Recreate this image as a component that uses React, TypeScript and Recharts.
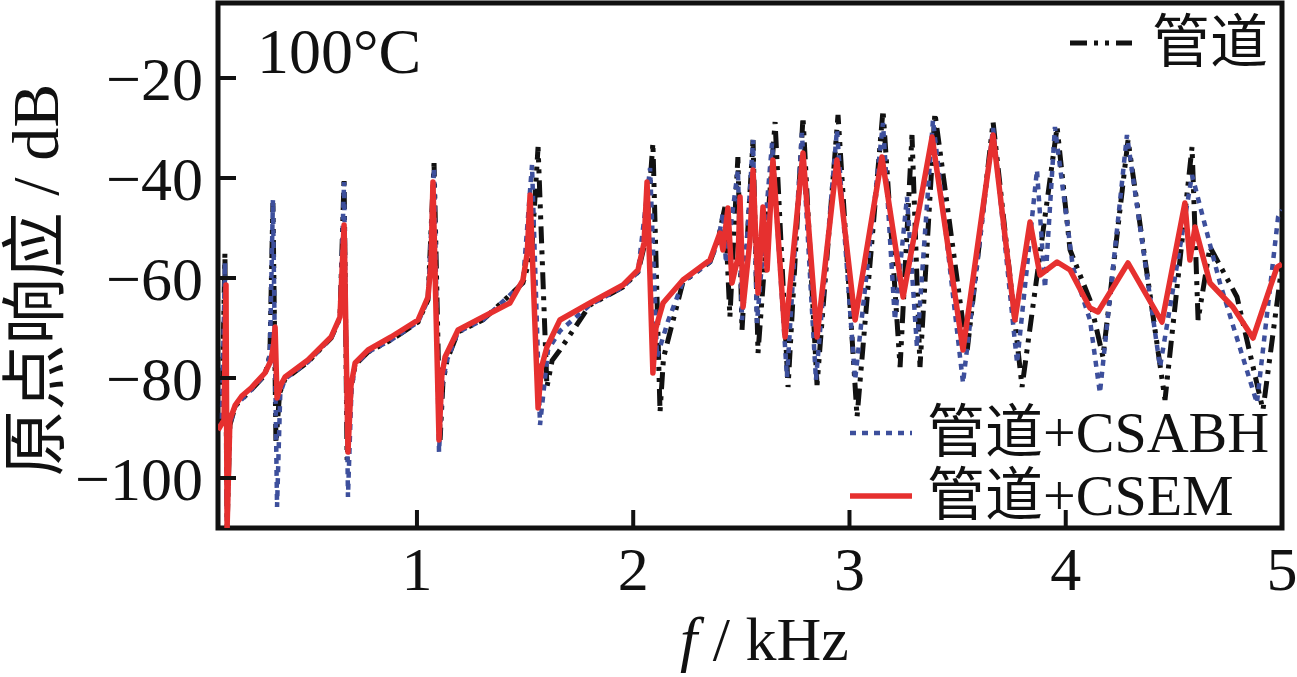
import { LineChart, Line, XAxis, YAxis, ReferenceArea } from "recharts";

// 管道
const pipeF = [
  0.08, 0.098, 0.112, 0.122, 0.135, 0.16, 0.233, 0.297, 0.32, 0.334, 0.348, 0.365, 0.39, 0.496, 0.603, 0.644,
  0.663, 0.677, 0.695, 0.714, 0.774, 0.88, 1.005, 1.051, 1.079, 1.107, 1.12, 1.139, 1.19, 1.305, 1.49, 1.53,
  1.56, 1.601, 1.625, 1.661, 1.8, 1.953, 2.022, 2.06, 2.091, 2.124, 2.14, 2.161, 2.23, 2.355, 2.392, 2.424,
  2.447, 2.484, 2.503, 2.554, 2.577, 2.656, 2.716, 2.785, 2.85, 2.947, 3.035, 3.155, 3.234, 3.289, 3.326,
  3.395, 3.543, 3.664, 3.798, 3.96, 4.02, 4.112, 4.172, 4.288, 4.459, 4.584, 4.612, 4.667, 4.792, 4.912, 5.0,
];
const pipeDb = [
  -90.4, -88.4, -55, -110, -89.4, -85.6, -82.4, -79.4, -75.4, -45, -93, -83, -80.2, -76.8, -72, -68,
  -40, -96.4, -82.4, -77.4, -74.8, -72.4, -68.8, -64.4, -37, -92.4, -81, -76.4, -70.8, -68.4, -61, -55,
  -33.8, -81.8, -76.5, -74.4, -65.4, -61.8, -58.8, -52, -33, -86.8, -76, -72.4, -60.8, -56.8, -52.4, -45.8,
  -67.8, -35.8, -70.4, -32.4, -75, -28.8, -81.8, -27.8, -81.4, -27.4, -87.8, -26.4, -77.8, -31.4, -77.8,
  -27, -75, -28.8, -81.8, -29.8, -54.4, -64.4, -75.8, -32.4, -84.4, -33.8, -68.4, -53.8, -63.8, -86.4, -57.4,
];

// 管道+CSABH
const csabhF = [
  0.08, 0.098, 0.112, 0.122, 0.135, 0.16, 0.233, 0.297, 0.32, 0.334, 0.353, 0.368, 0.39, 0.496, 0.603, 0.644,
  0.663, 0.681, 0.697, 0.714, 0.774, 0.88, 1.005, 1.051, 1.079, 1.102, 1.118, 1.139, 1.19, 1.305, 1.49, 1.532,
  1.569, 1.606, 1.661, 1.8, 1.953, 2.022, 2.078, 2.11, 2.161, 2.23, 2.355, 2.392, 2.415, 2.429, 2.484, 2.503,
  2.554, 2.572, 2.642, 2.711, 2.78, 2.845, 2.942, 3.026, 3.155, 3.21, 3.266, 3.312, 3.386, 3.525, 3.664, 3.775,
  3.867, 3.904, 3.95, 4.033, 4.112, 4.158, 4.283, 4.436, 4.584, 4.713, 4.884, 4.982, 5.0,
];
const csabhDb = [
  -90.4, -88.4, -57, -110, -89.4, -85.6, -82.4, -79.4, -75.4, -44.4, -105.8, -83, -80.2, -76.8, -72, -68,
  -40.8, -103.8, -82.4, -77.4, -74.8, -72.4, -68.8, -64.4, -38, -94.8, -81, -76.4, -70.8, -68.4, -61, -37.4,
  -89.4, -74.4, -70.6, -65.4, -61.8, -58.8, -38, -75.8, -68.6, -60.8, -56.8, -52.8, -47, -57, -38.4, -68.4,
  -32.4, -69, -33, -79.8, -31, -80.4, -30.4, -80.4, -29, -68.4, -43.8, -73.8, -28.4, -81, -30, -77,
  -38.4, -62, -29.8, -57.8, -68.4, -83, -31.4, -77.8, -39.4, -61, -85, -47.8, -46.4,
];

// 管道+CSEM
const csemF = [
  0.08, 0.108, 0.117, 0.122, 0.135, 0.16, 0.19, 0.233, 0.297, 0.325, 0.338, 0.344, 0.353, 0.37, 0.39, 0.496,
  0.603, 0.644, 0.663, 0.681, 0.695, 0.714, 0.774, 0.88, 1.005, 1.051, 1.065, 1.074, 1.102, 1.115, 1.13, 1.19,
  1.305, 1.43, 1.49, 1.51, 1.523, 1.56, 1.575, 1.601, 1.661, 1.8, 1.953, 2.022, 2.05, 2.064, 2.091, 2.105,
  2.138, 2.23, 2.355, 2.401, 2.415, 2.438, 2.457, 2.485, 2.494, 2.508, 2.54, 2.554, 2.577, 2.6, 2.619, 2.646,
  2.702, 2.785, 2.85, 2.942, 3.026, 3.15, 3.248, 3.382, 3.525, 3.664, 3.765, 3.835, 3.881, 3.96, 4.02, 4.112,
  4.149, 4.288, 4.445, 4.551, 4.574, 4.598, 4.667, 4.773, 4.866, 4.977, 5.0,
];
const csemDb = [
  -90.4, -88.4, -61.4, -110, -88.4, -85.4, -83.6, -82, -79, -76.5, -73, -69.8, -84, -81.4, -79.8, -76.4,
  -71.8, -67.8, -49.4, -94.8, -81.5, -77, -74.4, -71.8, -68.4, -63.8, -57, -40.8, -92.4, -79.5, -75.8, -70.4,
  -67.8, -65, -60.4, -55, -43.4, -86, -78, -73.8, -68.4, -65, -61.4, -58.4, -53, -40.8, -79, -70,
  -65, -60.4, -56.4, -51, -54.4, -46, -61, -55.8, -43.8, -65.8, -52.4, -38.4, -63, -45.8, -58.4, -36.4,
  -71.8, -35, -71.8, -36.4, -68.4, -35.8, -63.8, -31.8, -74.4, -31.4, -68.4, -48.8, -59.4, -56.8, -58.4, -66,
  -66.8, -57, -68.8, -45, -56.4, -49.8, -61, -65.8, -72, -57.8, -57.2,
];

const xTicks = [1, 2, 3, 4, 5];
const yTicks = [-100, -80, -60, -40, -20];

const toRows = (fs: number[], vs: number[]) => fs.map((f, i) => ({ f, v: vs[i] }));

const FONT = '"Liberation Serif", "Times New Roman", "Noto Sans CJK SC", serif';
const RED = "#e6302f";
const BLUE = "#3d4f9c";
const BLACK = "#111111";

const fmt = (v: number) => (v < 0 ? "\u2212" + Math.abs(v) : String(v));

function YTick(props: any) {
  const { x, y, payload } = props;
  return (
    <g>
      <line x1={x + 15} x2={x + 33} y1={y} y2={y} stroke={BLACK} strokeWidth={4} />
      <text x={x} y={y + 22} textAnchor="end" fontFamily={FONT} fontSize={62} fill={BLACK}>
        {fmt(payload.value)}
      </text>
    </g>
  );
}

function XTick(props: any) {
  const { x, y, payload } = props;
  return (
    <g>
      <line x1={x} x2={x} y1={y - 15} y2={y - 33} stroke={BLACK} strokeWidth={4} />
      <text x={x} y={y + 47} textAnchor="middle" fontFamily={FONT} fontSize={62} fill={BLACK}>
        {payload.value}
      </text>
    </g>
  );
}

function Sample({ color, dash, width }: { color: string; dash?: string; width: number }) {
  return (
    <svg width={62} height={10} style={{ display: "block" }}>
      <line x1={0} x2={62} y1={5} y2={5} stroke={color} strokeWidth={width} strokeDasharray={dash} />
    </svg>
  );
}

const PIPE_DASH = "17 7 4 7 4 7";
const ABH_DASH = "6 6";

export default function App() {
  const text: React.CSSProperties = {
    position: "absolute",
    fontFamily: FONT,
    color: BLACK,
    whiteSpace: "nowrap",
    lineHeight: 1,
  };
  return (
    <div style={{ position: "absolute", left: 0, top: 0, width: 1297, height: 677, background: "#fff" }}>
      <LineChart width={1297} height={677} margin={{ top: 3, right: 15, bottom: 0, left: 0 }}>
        <XAxis
          type="number"
          dataKey="f"
          domain={[0.08, 5]}
          ticks={xTicks}
          allowDataOverflow
          height={149}
          axisLine={false}
          tickLine={false}
          tickSize={0}
          tickMargin={15}
          tick={<XTick />}
        />
        <YAxis
          type="number"
          domain={[-110, -5]}
          ticks={yTicks}
          allowDataOverflow
          width={218}
          axisLine={false}
          tickLine={false}
          tickSize={0}
          tickMargin={15}
          tick={<YTick />}
        />
        <Line
          data={toRows(pipeF, pipeDb)}
          dataKey="v"
          type="linear"
          stroke={BLACK}
          strokeWidth={5}
          strokeDasharray={PIPE_DASH}
          dot={false}
          isAnimationActive={false}
        />
        <Line
          data={toRows(csabhF, csabhDb)}
          dataKey="v"
          type="linear"
          stroke={BLUE}
          strokeWidth={4.5}
          strokeDasharray={ABH_DASH}
          dot={false}
          isAnimationActive={false}
        />
        <Line
          data={toRows(csemF, csemDb)}
          dataKey="v"
          type="linear"
          stroke={RED}
          strokeWidth={5.5}
          strokeLinejoin="round"
          dot={false}
          isAnimationActive={false}
        />
        <ReferenceArea
          x1={0.08}
          x2={5}
          y1={-110}
          y2={-5}
          fill="none"
          fillOpacity={0}
          stroke={BLACK}
          strokeWidth={5}
          ifOverflow="visible"
        />
      </LineChart>

      <div style={{ ...text, left: 257, top: 20, fontSize: 64 }}>100°C</div>

      <div style={{ ...text, left: 1070, top: 14, fontSize: 58, display: "flex", alignItems: "center", gap: 20 }}>
        <Sample color={BLACK} dash={PIPE_DASH} width={5} />
        <span>管道</span>
      </div>
      <div style={{ ...text, left: 850, top: 404, fontSize: 58, display: "flex", alignItems: "center", gap: 15 }}>
        <Sample color={BLUE} dash={ABH_DASH} width={4.5} />
        <span>管道+CSABH</span>
      </div>
      <div style={{ ...text, left: 850, top: 467, fontSize: 58, display: "flex", alignItems: "center", gap: 15 }}>
        <Sample color={RED} width={5.5} />
        <span>管道+CSEM</span>
      </div>

      <div style={{ ...text, left: 680, top: 608, fontSize: 62 }}>
        <i>f</i> / kHz
      </div>
      <div
        style={{
          ...text,
          left: 36,
          top: 280,
          fontSize: 66,
          transform: "translate(-50%, -50%) rotate(-90deg)",
        }}
      >
        原点响应 / dB
      </div>
    </div>
  );
}
